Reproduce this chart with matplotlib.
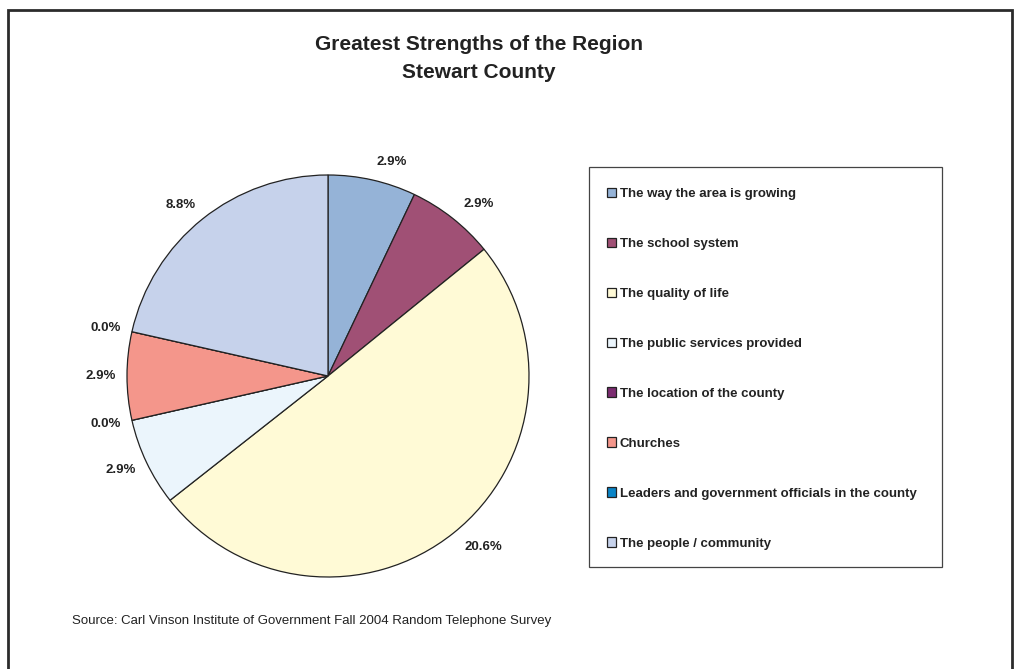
import matplotlib.pyplot as plt
from matplotlib.patches import Rectangle

plt.rcParams['font.family'] = ['Liberation Sans', 'DejaVu Sans']

# survey results (% of respondents)
categories = ['The way the area is growing', 'The school system', 'The quality of life',
              'The public services provided', 'The location of the county', 'Churches',
              'Leaders and government officials in the county', 'The people / community']
values = [2.9, 2.9, 20.6, 2.9, 0.0, 2.9, 0.0, 8.8]
colors = ['#95B3D7', '#A05075', '#FFFAD6', '#EBF5FC', '#7B2C70', '#F4968B', '#0A84C6', '#C6D2EB']

W, H = 1016, 669
fig = plt.figure(figsize=(W / 100, H / 100), dpi=100)

# outer frame
fig.patches.append(Rectangle((8 / W, -0.05), 1004 / W, (H - 10) / H + 0.05, transform=fig.transFigure,
                             fill=False, edgecolor='#2b2b2b', linewidth=2.0))

cx, cy, r = 328, 376, 201
ax = fig.add_axes([(cx - r) / W, (H - cy - r) / H, 2 * r / W, 2 * r / H])
wedges, texts = ax.pie(values, colors=colors, startangle=90, counterclock=False,
                       labels=[f'{v:.1f}%' for v in values], labeldistance=1.09,
                       wedgeprops=dict(edgecolor='#222222', linewidth=0.9),
                       textprops=dict(fontsize=9.5, fontweight='bold', color='#222222'))
ax.set_xlim(-1, 1)
ax.set_ylim(-1, 1)
ax.set_aspect('equal')

# labels on the left side sit a little closer to the rim
for t in texts:
    x, y = t.get_position()
    if x < 0:
        t.set_position((x * 0.97, y))

fig.text(479 / W, 1 - 45 / H, 'Greatest Strengths of the Region', ha='center', va='center',
         fontsize=15, fontweight='bold', color='#222222')
fig.text(479 / W, 1 - 72 / H, 'Stewart County', ha='center', va='center',
         fontsize=15, fontweight='bold', color='#222222')
fig.text(72 / W, 1 - 621 / H, 'Source: Carl Vinson Institute of Government Fall 2004 Random Telephone Survey',
         ha='left', va='center', fontsize=9.5, color='#222222')

# legend box
fig.patches.append(Rectangle((589 / W, 1 - 567 / H), 353 / W, 400 / H, transform=fig.transFigure,
                             fill=False, edgecolor='#444444', linewidth=0.9))
leg = fig.legend(wedges, categories, loc='upper left', bbox_to_anchor=(600 / W, 1 - 181 / H),
                 frameon=False, prop=dict(weight='bold', size=9.5),
                 handlelength=0.7, handleheight=0.7, handletextpad=0.3, labelspacing=2.86,
                 borderpad=0)
for t in leg.get_texts():
    t.set_color('#222222')

fig.savefig('out.png', dpi=100)
